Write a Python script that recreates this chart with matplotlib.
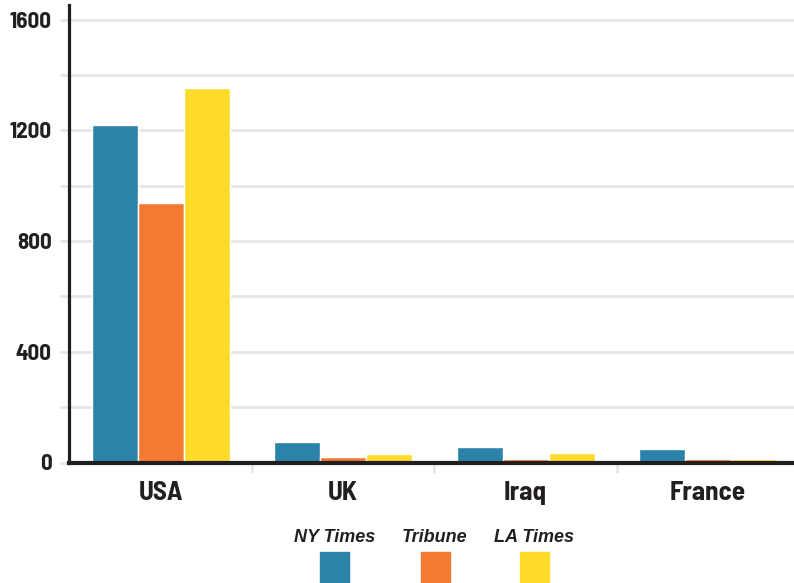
import numpy as np
import matplotlib
matplotlib.use("Agg")
import matplotlib.pyplot as plt
from matplotlib.patches import Rectangle

# ── Data ──────────────────────────────────────────────────────────────────────
countries = ["USA", "UK", "Iraq", "France"]
series = ["NY Times", "Tribune", "LA Times"]
ny_times = [1220, 75, 57, 48]
tribune = [938, 20, 14, 13]
la_times = [1352, 31, 34, 12]
y_ticks = [0, 400, 800, 1200, 1600]

# ── Style ─────────────────────────────────────────────────────────────────────
COLORS = ["#2b83aa", "#f47a33", "#fedb2b"]
C_TEXT = "#231f20"
C_GRID = "#e6e6e6"
NARROW = ["Barlow Semi Condensed", "Barlow Condensed", "DejaVu Sans"]

W, H = 794, 583
fig = plt.figure(figsize=(W / 100, H / 100), dpi=100)
fig.patch.set_facecolor("white")

# axes in pixel terms: spine at x=69, zero line at y=462.5, top at y=5
x0, y0, ytop = 69.3, 462.5, 5
ax = fig.add_axes([x0 / W, (H - y0) / H, 730 / W, (y0 - ytop) / H])

x = np.arange(len(countries))
bw = 0.252
for i, vals in enumerate([ny_times, tribune, la_times]):
    ax.bar(x + (i - 1) * bw, vals, width=bw, color=COLORS[i],
           edgecolor="white", linewidth=1.0, zorder=3)

ax.set_xlim(-0.5, len(countries) - 0.5)
ax.set_ylim(0, 1653)

# grid every 200, labels every 400
ax.set_yticks(y_ticks)
ax.set_yticks(np.arange(200, 1601, 400), minor=True)
ax.yaxis.grid(True, which="both", color=C_GRID, lw=2, zorder=0)
ax.tick_params(axis="y", which="both", length=6.5, width=2, color=C_GRID,
               pad=6, labelsize=16.5, labelcolor=C_TEXT)
for lab in ax.get_yticklabels():
    lab.set_family(NARROW)
    lab.set_fontweight(700)

# category labels and separators
ax.set_xticks(x)
ax.set_xticklabels(countries)
ax.set_xticks(np.arange(0.5, len(countries) - 0.5, 1), minor=True)
ax.tick_params(axis="x", which="major", length=0, pad=13, labelsize=19.5,
               labelcolor=C_TEXT)
ax.tick_params(axis="x", which="minor", length=7.5, width=2, color=C_GRID)
for lab in ax.get_xticklabels():
    lab.set_family(NARROW)
    lab.set_fontweight(700)

for side in ["top", "right"]:
    ax.spines[side].set_visible(False)
ax.spines["left"].set_color(C_TEXT)
ax.spines["left"].set_linewidth(2.3)
ax.spines["bottom"].set_color(C_TEXT)
ax.spines["bottom"].set_linewidth(3)
ax.spines["bottom"].set_zorder(4)

# ── Legend (labels above colour squares) ─────────────────────────────────────
centers = [334.5, 435, 534]
for name, color, cx in zip(series, COLORS, centers):
    fig.text(cx / W, 1 - 537 / H, name, ha="center", va="center",
             fontsize=13, fontweight="bold", fontstyle="italic",
             family=["Liberation Sans", "DejaVu Sans"], color=C_TEXT)
    fig.patches.append(Rectangle(((cx - 14.5) / W, 1 - 585 / H), 29 / W, 33 / H,
                                 transform=fig.transFigure, color=color))

fig.savefig("out.png", dpi=100)
